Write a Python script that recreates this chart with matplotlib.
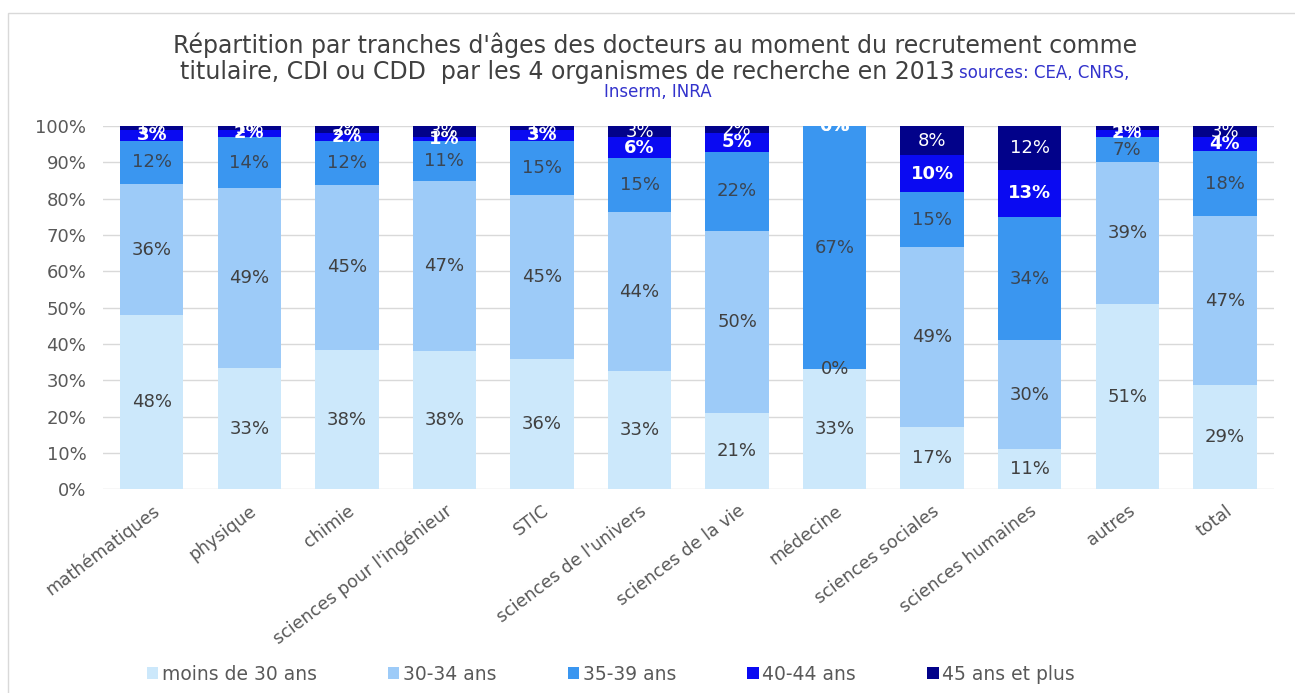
import matplotlib.pyplot as plt
import matplotlib.patches as mpatches
import matplotlib.transforms as mtransforms
import numpy as np

plt.rcParams['font.family'] = ['DejaVu Sans']

categories = ["mathématiques", "physique", "chimie", "sciences pour l'ingénieur", "STIC",
              "sciences de l'univers", "sciences de la vie", "médecine", "sciences sociales",
              "sciences humaines", "autres", "total"]

series_names = ["moins de 30 ans", "30-34 ans", "35-39 ans", "40-44 ans", "45 ans et plus"]

moins_30 = [48, 33, 38, 38, 36, 33, 21, 33, 17, 11, 51, 29]
a_30_34 = [36, 49, 45, 47, 45, 44, 50, 0, 49, 30, 39, 47]
a_35_39 = [12, 14, 12, 11, 15, 15, 22, 67, 15, 34, 7, 18]
a_40_44 = [3, 2, 2, 1, 3, 6, 5, 0, 10, 13, 2, 4]
a_45_plus = [1, 1, 2, 3, 1, 3, 2, 0, 8, 12, 1, 3]

colors = ["#cce8fb", "#9dcbf8", "#3a96f0", "#0a0af2", "#02028a"]
text_colors = ["#404040", "#404040", "#3a4654", "white", "white"]
text_weights = ["normal", "normal", "normal", "bold", "normal"]

series = np.array([moins_30, a_30_34, a_35_39, a_40_44, a_45_plus], dtype=float)
totals = series.sum(axis=0)
shares = series / totals * 100

fig = plt.figure(figsize=(12.95, 6.93), dpi=100)
ax = fig.add_axes([0.0795, 0.294, 0.904, 0.524])

x = np.arange(len(categories))
bottom = np.zeros(len(categories))
for i, name in enumerate(series_names):
    ax.bar(x, shares[i], bottom=bottom, width=0.65, color=colors[i], label=name, zorder=2)
    for j in range(len(categories)):
        ax.text(x[j], bottom[j] + shares[i][j] / 2, f"{int(series[i][j])}%",
                ha="center", va="center", fontsize=13, color=text_colors[i],
                fontweight=text_weights[i], zorder=3)
    bottom += shares[i]

ax.set_xlim(-0.5, len(categories) - 0.5)
ax.set_ylim(0, 100)
ax.set_yticks(range(0, 101, 10))
ax.set_yticklabels([f"{v}%" for v in range(0, 101, 10)], fontsize=13, color="#595959")
ax.set_xticks(x)
ax.set_xticklabels(categories, rotation=37, ha="right", rotation_mode="anchor",
                   fontsize=12.5, color="#595959")
shift = mtransforms.ScaledTranslation(8 / 100, 0, fig.dpi_scale_trans)
for lbl in ax.get_xticklabels():
    lbl.set_transform(lbl.get_transform() + shift)
ax.tick_params(axis="y", length=0, pad=12)
ax.tick_params(axis="x", length=0, pad=9)
ax.yaxis.grid(True, color="#d9d9d9", linewidth=1, zorder=0)
ax.set_axisbelow(True)
for s in ax.spines.values():
    s.set_visible(False)

# title
fig.text(0.506, 1 - 45 / 693, "Répartition par tranches d'âges des docteurs au moment du recrutement comme",
         ha="center", va="center", fontsize=17, color="#404040")
fig.text(955 / 1295, 1 - 72 / 693, "titulaire, CDI ou CDD  par les 4 organismes de recherche en 2013",
         ha="right", va="center", fontsize=17, color="#404040")
fig.text(959 / 1295, 1 - 73 / 693, "sources: CEA, CNRS,",
         ha="left", va="center", fontsize=12, color="#3333cc")
fig.text(658 / 1295, 1 - 92 / 693, "Inserm, INRA",
         ha="center", va="center", fontsize=12, color="#3333cc")

fig.legend(loc="center", bbox_to_anchor=(611 / 1295, 1 - 674 / 693), ncol=5, frameon=False,
           fontsize=13.5, handlelength=0.6, handleheight=0.6, handletextpad=0.2,
           columnspacing=3.8, labelcolor="#595959")

# outer chart frame
fig.add_artist(mpatches.Rectangle((8 / 1295, -0.1), 2, 1.1 - 13 / 693, transform=fig.transFigure,
                                  fill=False, edgecolor="#d9d9d9", linewidth=1))

fig.savefig("out.png", dpi=100)
